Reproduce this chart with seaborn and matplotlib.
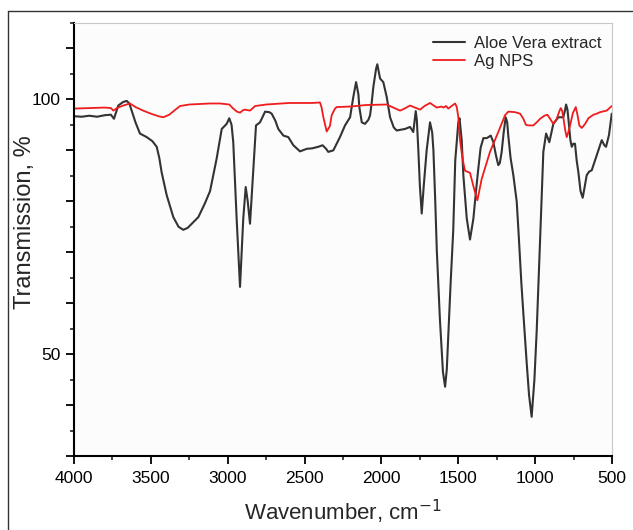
import matplotlib
matplotlib.use("Agg")
import matplotlib.pyplot as plt
from matplotlib.lines import Line2D
from matplotlib.ticker import MultipleLocator, FuncFormatter
import seaborn as sns
import pandas as pd

# FTIR spectrum of the aloe vera extract (wavenumber, transmission %)
aloe_wn = [4000, 3950, 3900, 3850, 3800, 3760, 3740, 3712, 3680, 3657, 3640, 3625,
           3600, 3571, 3527, 3490, 3462, 3445, 3430, 3397, 3354, 3320, 3289, 3260,
           3224, 3191, 3150, 3115, 3072, 3039, 3007, 2990, 2975, 2964, 2942, 2920,
           2899, 2883, 2870, 2855, 2833, 2816, 2790, 2757, 2730, 2714, 2690, 2671,
           2638, 2606, 2573, 2530, 2486, 2450, 2411, 2383, 2360, 2346, 2313, 2270,
           2237, 2204, 2183, 2165, 2150, 2144, 2128, 2107, 2085, 2074, 2063, 2053,
           2035, 2027, 2018, 2009, 1988, 1966, 1944, 1920, 1901, 1847, 1814, 1793,
           1777, 1770, 1760, 1750, 1738, 1725, 1706, 1684, 1670, 1662, 1650, 1640,
           1620, 1600, 1586, 1575, 1560, 1550, 1533, 1520, 1500, 1492, 1478, 1467,
           1445, 1424, 1402, 1385, 1370, 1355, 1337, 1315, 1289, 1272, 1255, 1240,
           1230, 1218, 1205, 1192, 1182, 1175, 1160, 1142, 1120, 1109, 1090, 1077,
           1055, 1040, 1023, 1005, 990, 980, 968, 955, 947, 929, 908, 882, 849, 817,
           805, 799, 790, 784, 771, 762, 752, 741, 730, 719, 705, 691, 680, 665, 650,
           632, 600, 567, 550, 539, 520, 502]
aloe_t = [96.7, 96.6, 96.8, 96.6, 96.9, 97.0, 96.2, 98.8, 99.5, 99.7, 99.2, 97.8,
          95.5, 93.3, 92.6, 91.8, 90.7, 88.5, 85.7, 81.2, 76.9, 75.0, 74.4, 74.8,
          75.9, 76.9, 79.5, 82.0, 88.4, 94.2, 95.2, 96.3, 95.0, 91.6, 76.6, 63.2,
          76.6, 82.8, 80.0, 75.6, 86.4, 94.9, 95.5, 97.6, 97.5, 97.2, 95.8, 94.2,
          92.9, 92.6, 91.0, 89.8, 90.3, 90.4, 90.7, 91.0, 90.3, 89.7, 90.0, 92.6,
          94.9, 96.5, 100.5, 103.4, 101.0, 98.5, 95.5, 95.2, 96.0, 96.9, 99.5, 102.4,
          106.0, 106.9, 105.5, 104.1, 103.4, 100.5, 96.5, 94.5, 93.9, 94.2, 94.6, 93.6,
          97.7, 96.0, 90.0, 83.0, 77.6, 83.0, 90.0, 95.5, 93.5, 90.0, 80.0, 70.4,
          57.0, 46.5, 43.6, 47.0, 57.0, 64.0, 74.3, 88.0, 95.5, 96.3, 92.0, 85.0,
          76.6, 72.5, 76.6, 82.0, 86.4, 90.5, 92.4, 92.4, 92.9, 91.6, 89.0, 87.1,
          87.5, 89.7, 93.5, 96.5, 95.5, 92.9, 88.5, 85.1, 79.9, 74.3, 64.0, 58.0,
          48.2, 42.0, 37.7, 45.0, 54.7, 63.0, 72.5, 83.0, 89.7, 93.3, 91.6, 95.2, 96.5, 96.5,
          98.0, 99.0, 98.0, 96.2, 92.0, 90.7, 91.3, 91.3, 88.0, 85.7, 82.0, 80.7, 82.5, 85.1, 85.8,
          86.1, 89.0, 92.0, 91.0, 90.7, 93.0, 97.2]

# FTIR spectrum of the Ag nanoparticles
ag_wn = [4000, 3900, 3800, 3760, 3744, 3720, 3680, 3636, 3600, 3550, 3500, 3450,
         3419, 3380, 3340, 3310, 3250, 3115, 3050, 2990, 2964, 2940, 2920, 2900,
         2888, 2855, 2822, 2750, 2600, 2450, 2400, 2390, 2378, 2356, 2335, 2324,
         2302, 2291, 2200, 2100, 1966, 1930, 1879, 1850, 1814, 1790, 1749, 1720,
         1684, 1660, 1640, 1610, 1597, 1580, 1565, 1535, 1521, 1510, 1500, 1489,
         1478, 1467, 1456, 1424, 1398, 1376, 1348, 1294, 1240, 1196, 1175, 1131,
         1098, 1077, 1060, 1044, 1012, 990, 968, 940, 921, 903, 882, 860, 845, 834,
         825, 817, 805, 795, 785, 773, 755, 736, 725, 713, 697, 675, 654, 621, 600,
         578, 535, 502]
ag_t = [98.2, 98.3, 98.4, 98.3, 97.8, 98.3, 98.8, 99.2, 98.5, 97.8, 97.2, 96.7,
        96.5, 97.0, 98.0, 98.7, 99.0, 99.2, 99.2, 99.0, 98.2, 97.6, 97.4, 97.9,
        98.0, 97.8, 98.7, 99.0, 99.3, 99.3, 99.4, 98.5, 96.5, 93.7, 94.8, 96.9,
        98.2, 98.5, 98.6, 98.9, 99.0, 98.5, 97.8, 98.2, 98.8, 98.5, 98.0, 98.7,
        99.3, 98.8, 98.4, 98.6, 98.4, 98.7, 98.2, 98.9, 99.2, 98.5, 96.5, 92.0,
        89.5, 87.5, 86.0, 85.6, 82.5, 80.2, 84.4, 89.7, 93.6, 96.9, 97.6, 97.5,
        97.2, 96.2, 95.0, 94.9, 94.9, 95.5, 96.2, 96.8, 97.0, 96.2, 95.2, 96.2, 97.5, 98.3,
        97.8, 96.5, 94.0, 92.6, 93.5, 94.9, 97.3, 98.5, 97.0, 94.9, 94.4, 95.2, 96.3, 97.0, 97.2,
        97.5, 97.8, 98.7]

series_names = ["Aloe Vera extract", "Ag NPS"]
series_colors = ["#333333", "#ee1c1c"]

aloe = pd.DataFrame({"wn": aloe_wn, "T": aloe_t})
ag = pd.DataFrame({"wn": ag_wn, "T": ag_t})

sns.set_style("ticks")
plt.rcParams["font.family"] = ["Liberation Sans", "DejaVu Sans"]

fig = plt.figure(figsize=(6.33, 5.30), dpi=100)
ax = fig.add_axes([0.1169, 0.1396, 0.85, 0.817])
ax.set_facecolor("#fcfcfc")

sns.lineplot(data=aloe, x="wn", y="T", sort=False, estimator=None, color=series_colors[0],
             linewidth=1.5, label=series_names[0], ax=ax)
sns.lineplot(data=ag, x="wn", y="T", sort=False, estimator=None, color=series_colors[1],
             linewidth=1.3, label=series_names[1], ax=ax)

ax.set_xlim(4000, 500)
ax.set_ylim(30, 115)
ax.xaxis.set_major_locator(MultipleLocator(500))
ax.xaxis.set_minor_locator(MultipleLocator(250))
ax.yaxis.set_major_locator(MultipleLocator(10))
ax.yaxis.set_minor_locator(MultipleLocator(5))
ax.yaxis.set_major_formatter(FuncFormatter(lambda v, p: f"{v:.0f}" if v in (50, 100) else ""))

ax.tick_params(axis="both", which="major", direction="out", length=6, width=1.3,
               labelsize=12.5, colors="black")
ax.tick_params(axis="both", which="minor", direction="out", length=3, width=1.2)
ax.tick_params(axis="x", which="major", pad=5)

for side in ["left", "bottom"]:
    ax.spines[side].set_linewidth(1.5)
    ax.spines[side].set_color("black")
for side in ["top", "right"]:
    ax.spines[side].set_linewidth(0.8)
    ax.spines[side].set_color("#c8c8c8")

ax.set_xlabel("Wavenumber, cm$^{-1}$", fontsize=16, labelpad=8)
ax.set_ylabel("Transmission, %", fontsize=17)
ax.yaxis.set_label_coords(-0.07, 0.54)

ax.legend(loc="upper right", bbox_to_anchor=(1.008, 1.005), frameon=False, fontsize=12,
          handlelength=1.9, handletextpad=0.55, labelspacing=0.2)

# outer frame around the figure
fig.add_artist(Line2D([8 / 633, 8 / 633], [0, 1 - 11 / 530], color="#333333", lw=1.0,
                      transform=fig.transFigure))
fig.add_artist(Line2D([8 / 633, 1], [1 - 11 / 530, 1 - 11 / 530], color="#333333", lw=1.0,
                      transform=fig.transFigure))

fig.savefig("out.png", dpi=100)
